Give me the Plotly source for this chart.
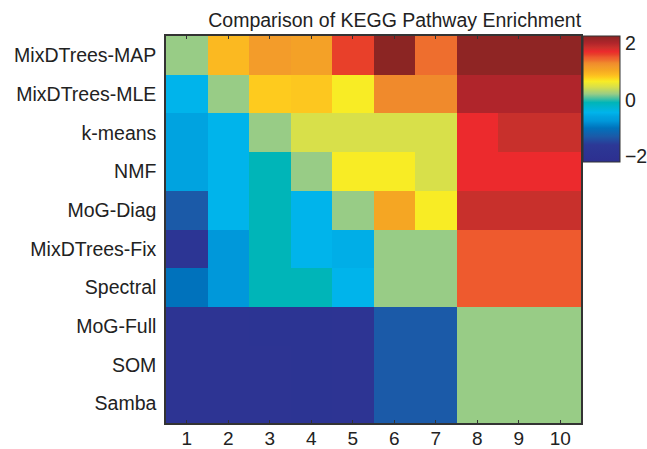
import plotly.graph_objects as go

methods = ["MixDTrees-MAP", "MixDTrees-MLE", "k-means", "NMF", "MoG-Diag",
           "MixDTrees-Fix", "Spectral", "MoG-Full", "SOM", "Samba"]
columns = [1, 2, 3, 4, 5, 6, 7, 8, 9, 10]

row_map = [0.2, 0.9, 1.15, 1.1, 1.6, 2.25, 1.4, 2.22, 2.22, 2.22]
row_mle = [-0.45, 0.2, 0.8, 0.82, 0.65, 1.3, 1.3, 2.0, 2.0, 2.0]
row_kmeans = [-0.6, -0.45, 0.2, 0.45, 0.45, 0.45, 0.45, 1.7, 1.85, 1.85]
row_nmf = [-0.6, -0.45, -0.1, 0.2, 0.65, 0.65, 0.45, 1.7, 1.7, 1.7]
row_mogdiag = [-1.3, -0.45, -0.1, -0.45, 0.2, 1.05, 0.65, 1.85, 1.85, 1.85]
row_fix = [-1.8, -0.75, -0.1, -0.45, -0.5, 0.2, 0.2, 1.5, 1.5, 1.5]
row_spectral = [-1.0, -0.75, -0.1, -0.1, -0.45, 0.2, 0.2, 1.5, 1.5, 1.5]
row_mogfull = [-1.9, -1.9, -1.85, -1.85, -1.9, -1.3, -1.3, 0.2, 0.2, 0.2]
row_som = [-1.9, -1.9, -1.9, -1.85, -1.9, -1.3, -1.3, 0.2, 0.2, 0.2]
row_samba = [-1.9, -1.9, -1.9, -1.85, -1.9, -1.3, -1.3, 0.2, 0.2, 0.2]

z = [row_map, row_mle, row_kmeans, row_nmf, row_mogdiag,
     row_fix, row_spectral, row_mogfull, row_som, row_samba]

zmin, zmax = -2.2, 2.25
stops = [
    (-2.2, "#2D2F8F"), (-1.6, "#2C3896"), (-1.3, "#1B5AA8"), (-1.0, "#0072BC"),
    (-0.75, "#0098DA"), (-0.6, "#00A3E0"), (-0.45, "#00B4EB"), (-0.1, "#00B5B8"),
    (0.2, "#98CC86"), (0.45, "#D8E04A"), (0.65, "#F8EC25"), (0.8, "#FECB1E"),
    (0.9, "#FBB921"), (1.05, "#F5A623"), (1.15, "#F39C2A"), (1.3, "#F08A2C"),
    (1.4, "#EE6E2E"), (1.5, "#EE5A2E"), (1.6, "#E8402A"), (1.7, "#EC2A2D"),
    (1.85, "#C8302C"), (2.0, "#B0252B"), (2.25, "#8B2523"),
]
colorscale = [[(v - zmin) / (zmax - zmin), c] for v, c in stops]

font = "Liberation Sans, Arial, Helvetica, sans-serif"

fig = go.Figure(go.Heatmap(
    z=z, x=columns, y=methods,
    zmin=zmin, zmax=zmax, colorscale=colorscale,
    colorbar=dict(
        x=1.006, xanchor="left", xpad=0,
        y=1.0, yanchor="top", ypad=0,
        len=0.326, lenmode="fraction", thickness=37,
        outlinewidth=1, outlinecolor="#333",
        tickvals=[-2, 0, 2], ticktext=["\u22122", "0", "2"],
        ticks="", tickfont=dict(size=19.5, color="#222", family=font),
    ),
))

fig.update_layout(
    width=647, height=449,
    margin=dict(l=166, r=66, t=36, b=26, autoexpand=False),
    paper_bgcolor="white", plot_bgcolor="white",
    font=dict(family=font, size=19.5, color="#222"),
    title=dict(text="Comparison of KEGG Pathway Enrichment", x=0.61, xanchor="center",
               y=0.955, yanchor="middle", font=dict(size=19.5, color="#222")),
)
fig.update_xaxes(
    tickvals=columns, ticks="inside", ticklen=3, tickcolor="#333",
    showline=True, linecolor="#333", linewidth=1.5, mirror="ticks",
    showgrid=False, zeroline=False, range=[0.5, 10.5], automargin=False,
    tickfont=dict(size=19), ticklabelstandoff=-3,
)
fig.update_yaxes(
    autorange="reversed", ticks="", showline=True, linecolor="#333", linewidth=1.5,
    mirror=True, showgrid=False, zeroline=False, ticklabelstandoff=4, automargin=False,
)

fig.write_html("out.html")
